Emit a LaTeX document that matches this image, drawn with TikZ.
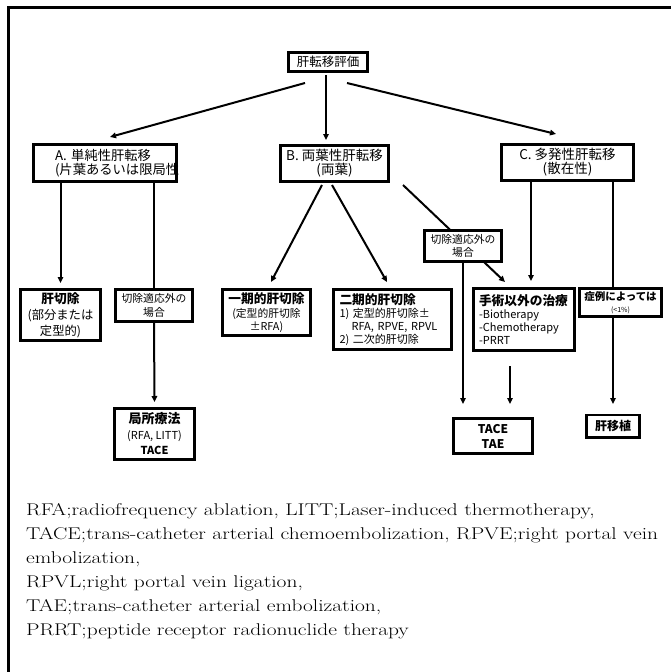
\documentclass[tikz,border=0pt]{standalone}
\usepackage{fontspec}
\newfontfamily\jp{Noto Sans CJK JP}
\newfontfamily\notefont{Latin Modern Roman}[FakeStretch=1.26]
\usetikzlibrary{arrows.meta}

\begin{document}
\begin{tikzpicture}[x=1pt,y=-1pt,
  box node/.style={draw,line width=2.6pt,fill=white,inner sep=0pt,align=center},
  arrow line/.style={-{Triangle[length=6pt,width=5.5pt]},line width=2pt},
  plain line/.style={line width=2pt},
  note line/.style={anchor=base west,inner sep=0pt,font=\notefont\fontsize{17}{20}\selectfont}]

  \useasboundingbox (0,0) rectangle (671,672);
  \draw[line width=3.2pt] (8.5,672) -- (8.5,7.5) -- (671,7.5);

  % top and first level
  \node[box node,line width=3pt,minimum width=79pt,minimum height=19pt,font=\jp\fontsize{12.5}{14}\selectfont] (root) at (328,61.5) {肝転移評価};
  \node[box node,minimum width=143.4pt,minimum height=37.4pt,align=left,text width=100pt,font=\jp\fontsize{13.3}{14}\selectfont] (a) at (105,163) {A. 単純性肝転移\\(片葉あるいは限局性};
  \node[box node,minimum width=108.4pt,minimum height=36.4pt,font=\jp\fontsize{13.5}{14}\selectfont] (b) at (334.5,163.5) {B. 両葉性肝転移\\(両葉)};
  \node[box node,minimum width=132.4pt,minimum height=36.4pt,font=\jp\fontsize{13.5}{14}\selectfont] (c) at (567.5,162.5) {C. 多発性肝転移\\(散在性)};

  \coordinate (rA) at (305,83);
  \coordinate (rB) at (326,75);
  \coordinate (rC) at (347,83);
  \coordinate (aIn) at (110,137);
  \coordinate (bIn) at (326,140);
  \coordinate (cIn) at (556,134);
  \path (rA) [arrow line] edge (aIn);
  \path (rB) [arrow line] edge (bIn);
  \path (rC) [arrow line] edge (cIn);

  % second level
  \node[box node,minimum width=80.4pt,minimum height=51.4pt,font=\jp\fontsize{12.3}{16}\selectfont] (kan) at (60.5,315) {{\bfseries\fontsize{12.7}{16}\selectfont 肝切除}\\(部分または\\定型的)};
  \node[box node,minimum width=77.4pt,minimum height=32.4pt,font=\jp\fontsize{10.8}{14}\selectfont] (setsuL) at (154,305.5) {切除適応外の\\場合};
  \node[box node,minimum width=88.4pt,minimum height=46.4pt,font=\jp\fontsize{10.8}{13}\selectfont] (ikki) at (266.5,312.5) {{\bfseries\fontsize{12.7}{15}\selectfont 一期的肝切除}\\[1pt](定型的肝切除\\±RFA)};
  \node[box node,minimum width=118.4pt,minimum height=60.4pt,align=left,text width=106pt,font=\jp\fontsize{11}{13}\selectfont] (niki) at (392.5,319.5) {{\bfseries\fontsize{12.7}{13}\selectfont 二期的肝切除}\\1) 定型的肝切除±\\\hspace*{1.1em}RFA, RPVE, RPVL\\2) 二次的肝切除};
  \node[box node,minimum width=101.4pt,minimum height=62.4pt,align=left,text width=90pt,font=\jp\fontsize{11}{13}\selectfont] (shujutsu) at (524,319.5) {{\bfseries\fontsize{12.7}{13}\selectfont 手術以外の治療}\\-Biotherapy\\-Chemotherapy\\-PRRT};
  \node[box node,minimum width=82.4pt,minimum height=28.4pt,font=\jp\fontsize{7}{12}\selectfont] (shorei) at (620.5,302.5) {{\bfseries\fontsize{10.5}{12}\selectfont 症例によっては}\\(<1\%)};

  \coordinate (bL) at (322,185);
  \coordinate (bM) at (332,185);
  \coordinate (bR) at (403,185);
  \coordinate (ikkiIn) at (271,282);
  \coordinate (nikiIn) at (387,282);
  \coordinate (shuIn) at (505,282);
  \path (bL) [arrow line] edge (ikkiIn);
  \path (bM) [arrow line] edge (nikiIn);
  \path (bR) [arrow line] edge (shuIn);

  \node[box node,minimum width=77.4pt,minimum height=31.4pt,font=\jp\fontsize{10.8}{13.5}\selectfont] (setsuM) at (463,246) {切除適応外の\\場合};

  % third level
  \node[box node,minimum width=80.4pt,minimum height=51.4pt,font=\jp\fontsize{11}{15.5}\selectfont] (kyoku) at (154.5,434) {{\bfseries\fontsize{13}{15.5}\selectfont 局所療法}\\(RFA, LITT)\\{\bfseries TACE}};
  \node[box node,minimum width=79.4pt,minimum height=35.4pt,font=\jp\bfseries\fontsize{12}{15}\selectfont] (tace) at (493,436) {TACE\\TAE};
  \node[box node,minimum width=53.4pt,minimum height=22.4pt,font=\jp\bfseries\fontsize{12}{14}\selectfont] (ishoku) at (613,426) {肝移植};

  \coordinate (tTop) at (0,404);
  \coordinate (sBot) at (510,366);
  \coordinate (cL) at (531,0);
  \coordinate (cR) at (613,0);
  \path (a.south -| kan.north) [arrow line] edge ([yshift=5pt]kan.north);
  \path (a.south -| setsuL.north) [plain line] edge (setsuL.north);
  \path (setsuL.south) [arrow line] edge ([yshift=5pt]kyoku.north);
  \path (setsuM.south) [arrow line] edge (setsuM.south |- tTop);
  \path (sBot) [arrow line] edge (sBot |- tTop);
  \path (c.south -| cL) [arrow line] edge ([yshift=6pt]shujutsu.north -| cL);
  \path (c.south -| cR) [plain line] edge (shorei.north -| cR);
  \path (shorei.south -| cR) [arrow line] edge (cR |- tTop);

  % abbreviations
  \node[note line] (l1) at (26,515) {RFA;radiofrequency ablation, LITT;Laser-induced thermotherapy,};
  \node[note line] (l2) at (26,539) {TACE;trans-catheter arterial chemoembolization, RPVE;right portal vein};
  \node[note line] (l3) at (26,563) {embolization,};
  \node[note line] (l4) at (26,587) {RPVL;right portal vein ligation,};
  \node[note line] (l5) at (26,611) {TAE;trans-catheter arterial embolization,};
  \node[note line] (l6) at (26,635) {PRRT;peptide receptor radionuclide therapy};
\end{tikzpicture}
\end{document}
